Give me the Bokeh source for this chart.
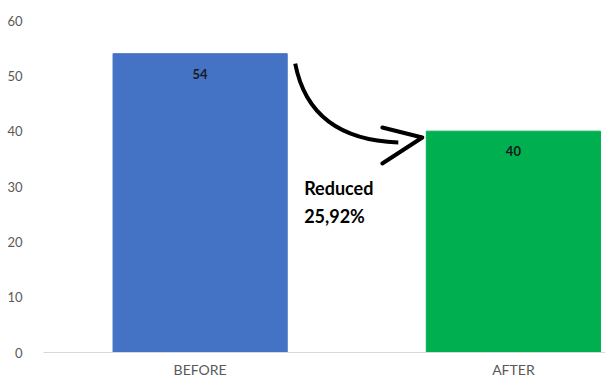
from bokeh.plotting import figure
from bokeh.models import ColumnDataSource, Range1d, FixedTicker, LabelSet
from bokeh.core.properties import value
from bokeh.embed import file_html
from bokeh.resources import INLINE

categories = ["BEFORE", "AFTER"]
values = [54, 40]
colors = ["#4472C4", "#00B050"]
note_lines = ["Reduced", "25,92%"]
y_ticks = [0, 10, 20, 30, 40, 50, 60]

idx = list(range(len(categories)))
src = ColumnDataSource(dict(x=idx, top=values, color=colors,
                            label=[str(v) for v in values]))

p = figure(width=605, height=380, output_backend="svg", toolbar_location=None,
           x_range=Range1d(-0.5, 1.294), y_range=Range1d(0, 60),
           min_border_left=43, min_border_right=0, min_border_top=20,
           min_border_bottom=28)
p.outline_line_color = None
p.background_fill_color = "white"
p.border_fill_color = "white"
p.xgrid.visible = False
p.ygrid.visible = False

p.vbar(x="x", top="top", width=0.556, color="color", source=src)

labels = LabelSet(x="x", y="top", text="label", source=src, text_align="center",
                  text_baseline="middle", y_offset=-20, text_font=value("Lato"),
                  text_font_style="bold", text_font_size="13px", text_color="#1a1a1a")
p.add_layout(labels)

# curved arrow
p.bezier(x0=[0.3035], y0=[52.2], x1=[0.6326], y1=[37.95],
         cx0=[0.3355], cy0=[42.83], cx1=[0.4473], cy1=[38.32],
         line_color="black", line_width=4)
p.line(x=[0.5815, 0.7093, 0.5815], y=[40.66, 38.86, 34.16],
       line_color="black", line_width=4, line_join="round", line_cap="round")

p.text(x=[0.332], y=[31.8], text=["\n".join(note_lines)], text_baseline="top",
       text_align="left", text_font=value("Lato"), text_font_style="bold",
       text_font_size="18px", text_color="black", text_line_height=1.28)

p.xaxis.ticker = FixedTicker(ticks=idx)
p.xaxis.major_label_overrides = {i: c for i, c in zip(idx, categories)}
p.xaxis.axis_line_color = "#d9d9d9"
p.xaxis.major_tick_line_color = None
p.xaxis.minor_tick_line_color = None
p.xaxis.major_tick_in = 0
p.xaxis.major_tick_out = 0
p.xaxis.major_label_standoff = 8
p.xaxis.major_label_text_font = "Lato"
p.xaxis.major_label_text_font_size = "14px"
p.xaxis.major_label_text_color = "#595959"

p.yaxis.ticker = FixedTicker(ticks=y_ticks)
p.yaxis.axis_line_color = None
p.yaxis.major_tick_line_color = None
p.yaxis.minor_tick_line_color = None
p.yaxis.major_label_standoff = 15
p.yaxis.major_label_text_font = "Lato"
p.yaxis.major_label_text_font_size = "13px"
p.yaxis.major_label_text_color = "#595959"

open("out.html", "w").write(file_html(p, INLINE))
